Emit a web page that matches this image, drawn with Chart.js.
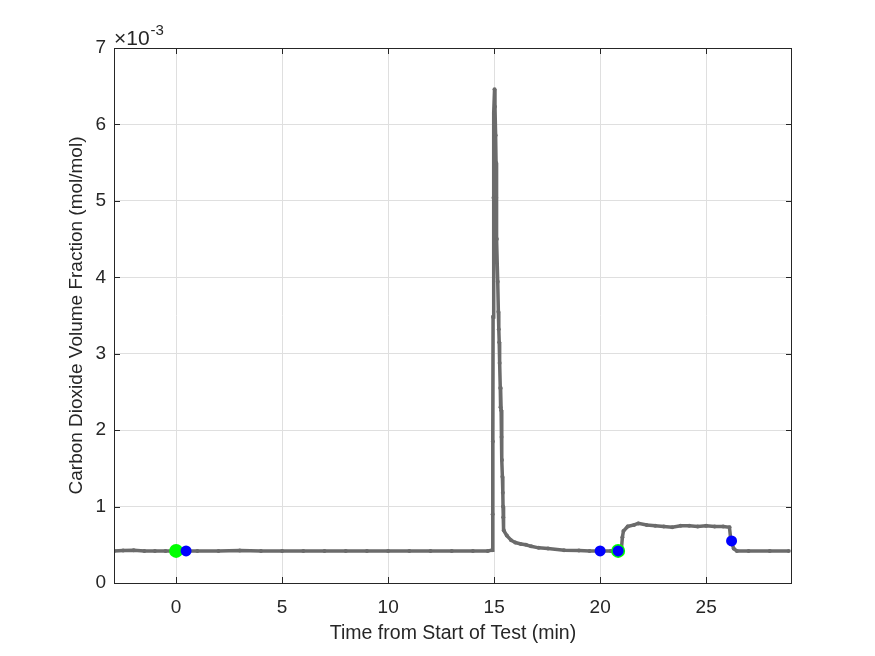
<!DOCTYPE html>
<html>
<head>
<meta charset="utf-8">
<script src="https://cdn.jsdelivr.net/npm/chart.js@4.4.1/dist/chart.umd.min.js"></script>
<style>
  html, body { margin: 0; padding: 0; background: #fff; }
  #wrap { width: 875px; height: 656px; position: relative; }
</style>
</head>
<body>
<div id="wrap"><canvas id="co2Chart"></canvas></div>
<script>
// ===== DATA (CO2 in units of 1e-3 mol/mol) =====
const timeMin = [
  -2.93, -2.5, -2.0, -1.5, -1.0, -0.5, 0, 1, 2, 3, 4, 5, 6, 7, 8, 9, 10, 11, 12, 13, 14, 14.7, 14.9,
  14.93, 14.94, 14.95, 14.97, 14.99, 15.02,
  15.04, 15.07, 15.09, 15.1, 15.13, 15.17, 15.2, 15.22, 15.24, 15.26, 15.29, 15.3, 15.31, 15.33, 15.35,
  15.37, 15.39, 15.41, 15.42, 15.43, 15.46, 15.6, 15.8, 16.0, 16.26, 16.5, 16.74, 17.1, 17.54, 18.3,
  19.0, 19.5, 20.0, 20.5, 20.95, 21.0, 21.05, 21.1, 21.3, 21.6, 21.8, 22.2, 22.6, 23.0, 23.4, 23.8,
  24.2, 24.6, 25.0, 25.4, 25.8, 26.1, 26.15, 26.2, 26.3, 26.45, 27.0, 28.0, 28.9
];
const co2E3 = [
  0.42, 0.425, 0.43, 0.42, 0.42, 0.42, 0.42, 0.42, 0.42, 0.425, 0.42, 0.42, 0.42, 0.418, 0.42, 0.42, 0.42, 0.42, 0.42, 0.42, 0.42, 0.42, 0.43,
  0.9, 1.85, 3.48, 5.04, 6.15, 6.46,
  6.23, 5.86, 5.5, 5.04, 4.5, 3.94, 3.55, 3.32, 3.15, 2.88, 2.55, 2.3, 2.55, 2.26, 1.91,
  1.61, 1.39, 1.18, 1.0, 0.86, 0.69, 0.62, 0.56, 0.53, 0.51, 0.5, 0.48, 0.46, 0.45, 0.43,
  0.425, 0.42, 0.42, 0.42, 0.42, 0.43, 0.6, 0.68, 0.74, 0.76, 0.78, 0.76, 0.75, 0.74, 0.73, 0.75,
  0.75, 0.74, 0.75, 0.74, 0.74, 0.73, 0.6, 0.54, 0.45, 0.42, 0.42, 0.42, 0.42
];
const greenTimes = [0, 20.85];
const greenValues = [0.42, 0.42];
const blueTimes = [0.47, 20.0, 20.85, 26.2];
const blueValues = [0.42, 0.42, 0.42, 0.55];
const xTicks = [0, 5, 10, 15, 20, 25];
const yTicks = [0, 1, 2, 3, 4, 5, 6, 7];

const toPts = (xs, ys) => xs.map((x, i) => ({ x, y: ys[i] }));
const TXT = '#262626';
const FONT = "'Liberation Sans', Arial, sans-serif";

// frame, inward ticks and the x10^-3 multiplier, MATLAB style
const matlabAxes = {
  id: 'matlabAxes',
  afterDraw(chart) {
    const { ctx, chartArea: a, scales: { x, y } } = chart;
    ctx.save();
    ctx.strokeStyle = TXT;
    ctx.lineWidth = 1;
    ctx.strokeRect(Math.round(a.left) + 0.5, Math.round(a.top) + 0.5,
      Math.round(a.right - a.left) - 1, Math.round(a.bottom - a.top));
    ctx.beginPath();
    xTicks.forEach(v => {
      const px = Math.round(x.getPixelForValue(v)) + 0.5;
      ctx.moveTo(px, a.bottom); ctx.lineTo(px, a.bottom - 6);
      ctx.moveTo(px, a.top); ctx.lineTo(px, a.top + 6);
    });
    yTicks.forEach(v => {
      const py = Math.round(y.getPixelForValue(v)) + 0.5;
      ctx.moveTo(a.left, py); ctx.lineTo(a.left + 6, py);
      ctx.moveTo(a.right, py); ctx.lineTo(a.right - 6, py);
    });
    ctx.stroke();
    ctx.fillStyle = TXT;
    ctx.textBaseline = 'alphabetic';
    ctx.textAlign = 'left';
    ctx.font = '21px ' + FONT;
    ctx.fillText('\u00d710', a.left, 45);
    const w = ctx.measureText('\u00d710').width;
    ctx.font = '15px ' + FONT;
    ctx.fillText('-3', a.left + w + 1, 35);
    ctx.restore();
  }
};

new Chart(document.getElementById('co2Chart'), {
  type: 'scatter',
  data: {
    datasets: [
      {
        label: 'Blue',
        data: toPts(blueTimes, blueValues),
        backgroundColor: '#0000ff',
        borderColor: '#0000ff',
        pointRadius: 5.5,
        borderWidth: 0,
        order: 0
      },
      {
        label: 'Green',
        data: toPts(greenTimes, greenValues),
        backgroundColor: '#00ff00',
        borderColor: '#00ff00',
        pointRadius: 7,
        borderWidth: 0,
        order: 1
      },
      {
        label: 'CO2',
        data: toPts(timeMin, co2E3),
        showLine: true,
        borderColor: '#6b6b6b',
        backgroundColor: '#6b6b6b',
        borderWidth: 3.5,
        pointRadius: 2,
        pointBorderWidth: 0,
        tension: 0,
        order: 2
      }
    ]
  },
  options: {
    responsive: true,
    maintainAspectRatio: false,
    animation: false,
    layout: { padding: { top: 48, right: 83, left: 0, bottom: 0 } },
    plugins: { legend: { display: false }, tooltip: { enabled: false } },
    scales: {
      x: {
        type: 'linear',
        min: -2.93,
        max: 29.05,
        afterBuildTicks: s => { s.ticks = xTicks.map(v => ({ value: v })); },
        afterFit: s => { s.height = 73; },
        grid: { color: '#dfdfdf', drawTicks: false },
        border: { display: false },
        ticks: { color: TXT, font: { family: FONT, size: 19 }, padding: 13, maxRotation: 0 },
        title: {
          display: true,
          text: 'Time from Start of Test (min)',
          color: TXT,
          font: { family: FONT, size: 19.5 },
          padding: { top: 0, bottom: 11 }
        }
      },
      y: {
        type: 'linear',
        min: 0,
        max: 7,
        afterBuildTicks: s => { s.ticks = yTicks.map(v => ({ value: v })); },
        afterFit: s => { s.width = 114; },
        grid: { color: '#dfdfdf', drawTicks: false },
        border: { display: false },
        ticks: { color: TXT, font: { family: FONT, size: 19 }, padding: 8 },
        title: {
          display: true,
          text: 'Carbon Dioxide Volume Fraction (mol/mol)',
          color: TXT,
          font: { family: FONT, size: 19 },
          padding: { top: 65, bottom: 0 }
        }
      }
    }
  },
  plugins: [matlabAxes]
});
</script>
</body>
</html>
